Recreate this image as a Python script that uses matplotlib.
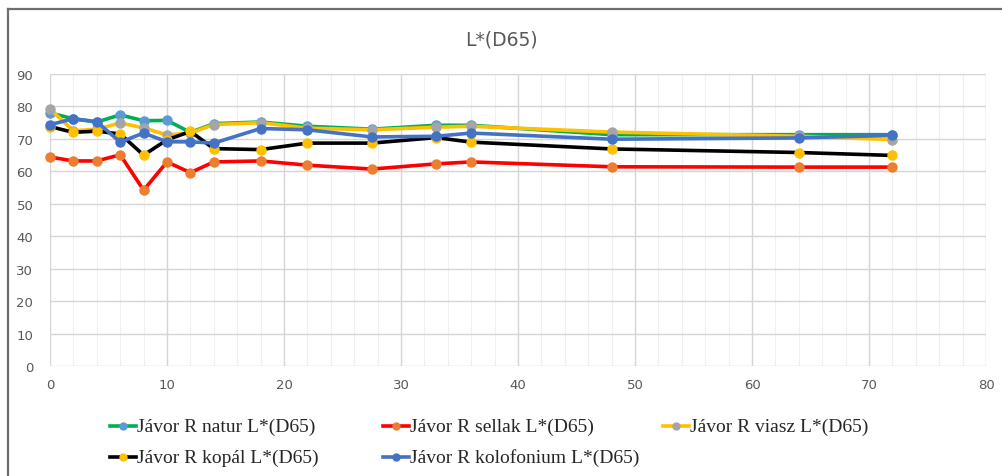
import matplotlib
matplotlib.use("Agg")
import matplotlib.pyplot as plt
from matplotlib.lines import Line2D

# ---- data ----
hours = [0, 2, 4, 6, 8, 10, 12, 14, 18, 22, 27.5, 33, 36, 48, 64, 72]
natur = [78.0, 76.2, 75.2, 77.4, 75.6, 75.7, 72.0, 74.7, 75.2, 73.9, 73.0, 74.2, 74.2, 71.3, 71.3, 71.3]
sellak = [64.4, 63.2, 63.2, 65.1, 54.2, 62.9, 59.6, 62.9, 63.2, 61.9, 60.7, 62.3, 62.9, 61.4, 61.3, 61.3]
viasz = [79.2, 72.5, 73.0, 74.9, 73.4, 71.2, 71.8, 74.4, 75.0, 73.3, 72.8, 73.6, 73.9, 72.1, 70.8, 69.8]
kopal = [73.8, 72.0, 72.4, 71.5, 65.0, 69.7, 72.3, 67.0, 66.7, 68.7, 68.7, 70.4, 69.0, 66.9, 65.8, 64.9]
kolofonium = [74.4, 76.2, 75.3, 69.0, 71.8, 69.1, 69.1, 68.7, 73.2, 72.8, 70.6, 70.8, 71.8, 69.9, 70.3, 71.1]

labels = ["Jávor R natur L*(D65)", "Jávor R sellak L*(D65)", "Jávor R viasz L*(D65)",
          "Jávor R kopál L*(D65)", "Jávor R kolofonium L*(D65)"]
series = [natur, sellak, viasz, kopal, kolofonium]
line_colors = ["#00B050", "#FF0000", "#FFC000", "#000000", "#4472C4"]
marker_colors = ["#5B9BD5", "#ED7D31", "#A5A5A5", "#FFC000", "#4472C4"]

x_ticks = list(range(0, 81, 10))
y_ticks = list(range(0, 91, 10))
title = "L*(D65)"

W, H = 1002, 477
fig = plt.figure(figsize=(W / 100, H / 100), dpi=100)
fig.patch.set_facecolor("white")

ax = fig.add_axes([50 / W, 1 - 367 / H, (986 - 50) / W, (367 - 75) / H])
ax.set_xlim(0, 80)
ax.set_ylim(0, 90)
ax.set_xticks(x_ticks)
ax.set_yticks(y_ticks)
ax.set_xticks(list(range(0, 81, 2)), minor=True)
ax.grid(True, which="major", color="#D5D5D5", linewidth=1.0)
ax.grid(True, which="minor", axis="x", color="#F0F0F0", linewidth=0.8)
ax.set_axisbelow(True)
for s in ax.spines.values():
    s.set_visible(False)
ax.tick_params(which="both", length=0)
ax.tick_params(axis="x", labelsize=9.5, labelcolor="#595959", pad=9)
ax.tick_params(axis="y", labelsize=9.5, labelcolor="#595959", pad=12)

for vals, lc, mc in zip(series, line_colors, marker_colors):
    ax.plot(hours, vals, color=lc, linewidth=2.6, marker="o", markersize=6.5,
            markerfacecolor=mc, markeredgecolor=mc, clip_on=False)

fig.text(0.5, 1 - 40 / H, title, ha="center", va="center", fontsize=13.5, color="#595959")

# manual legend (Excel-like equal column widths)
leg_pos = [(110, 427), (383, 427), (663, 427), (110, 458), (383, 458)]
for (px, py), lab, lc, mc in zip(leg_pos, labels, line_colors, marker_colors):
    yy = 1 - py / H
    fig.add_artist(Line2D([px / W, (px + 26) / W], [yy, yy], transform=fig.transFigure,
                          color=lc, linewidth=2.6))
    fig.add_artist(Line2D([(px + 13) / W], [yy], transform=fig.transFigure,
                          marker="o", markersize=5, color=mc, linestyle="none"))
    fig.text((px + 27) / W, yy, lab, ha="left", va="center", fontsize=14,
             family="Liberation Serif", color="#262626")

# chart border (top and left visible)
fig.add_artist(Line2D([8 / W, 1], [1 - 10 / H, 1 - 10 / H], transform=fig.transFigure,
                      color="#6E6E6E", linewidth=1.6))
fig.add_artist(Line2D([8 / W, 8 / W], [1 - 10 / H, 0], transform=fig.transFigure,
                      color="#6E6E6E", linewidth=1.6))

fig.savefig("out.png", dpi=100, facecolor="white")
